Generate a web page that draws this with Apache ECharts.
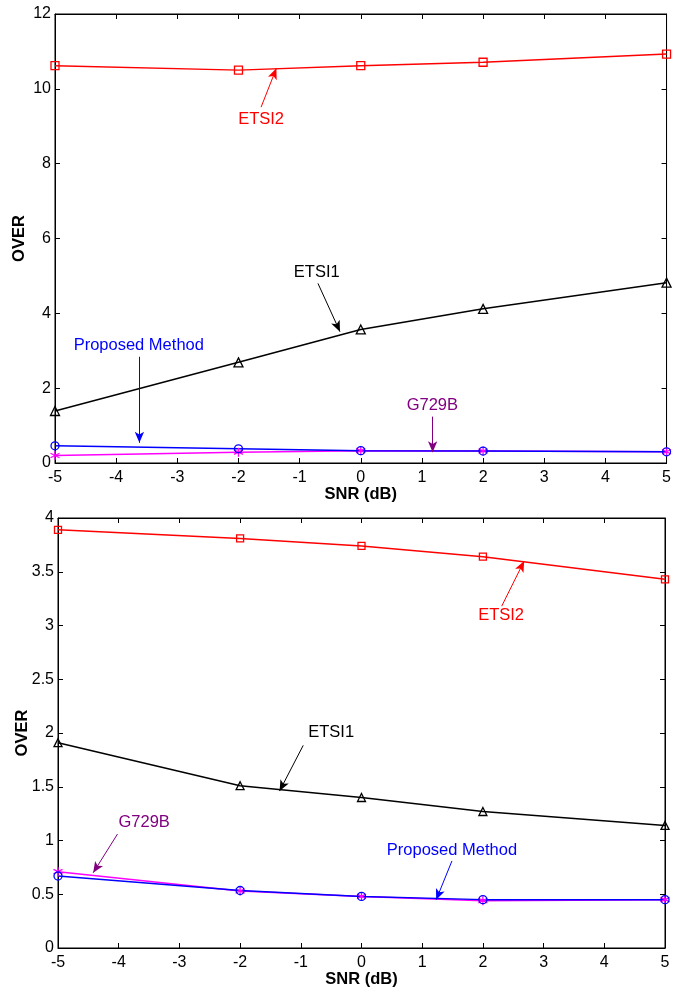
<!DOCTYPE html>
<html>
<head>
<meta charset="utf-8">
<script src="https://cdn.jsdelivr.net/npm/echarts@6/dist/echarts.min.js"></script>
<style>
html,body{margin:0;padding:0;background:#fff;}
#main{width:674px;height:989px;}
</style>
</head>
<body>
<div id="main"></div>
<script>
// ---- data ----
const snr = [-5, -2, 0, 2, 5];
const xTicks = [-5, -4, -3, -2, -1, 0, 1, 2, 3, 4, 5];

// top panel
const topETSI2    = [10.62, 10.50, 10.62, 10.71, 10.93];
const topETSI1    = [1.39, 2.69, 3.57, 4.12, 4.82];
const topProposed = [0.46, 0.38, 0.33, 0.32, 0.30];
const topG729B    = [0.20, 0.29, 0.33, 0.32, 0.30];

// bottom panel
const botETSI2    = [3.89, 3.81, 3.74, 3.64, 3.43];
const botETSI1    = [1.91, 1.51, 1.40, 1.27, 1.14];
const botProposed = [0.67, 0.535, 0.48, 0.45, 0.45];
const botG729B    = [0.71, 0.53, 0.48, 0.44, 0.45];

// annotations: text, text position, arrow start, arrow tip (data coords)
const topNotes = [
  {text: 'ETSI2', key: 'etsi2', at: [-1.63, 9.17], from: [-1.63, 9.51], to: [-1.38, 10.55]},
  {text: 'ETSI1', key: 'etsi1', at: [-0.72, 5.08], from: [-0.70, 4.80], to: [-0.34, 3.51]},
  {text: 'Proposed Method', key: 'prop', at: [-3.63, 3.13], from: [-3.62, 2.84], to: [-3.62, 0.54]},
  {text: 'G729B', key: 'g729', at: [1.17, 1.53], from: [1.175, 1.24], to: [1.175, 0.29]}
];
const botNotes = [
  {text: 'ETSI2', key: 'etsi2', at: [2.30, 3.09], from: [2.31, 3.18], to: [2.68, 3.60]},
  {text: 'ETSI1', key: 'etsi1', at: [-0.50, 2.005], from: [-0.96, 1.885], to: [-1.35, 1.46]},
  {text: 'G729B', key: 'g729', at: [-3.58, 1.165], from: [-4.02, 1.06], to: [-4.42, 0.70]},
  {text: 'Proposed Method', key: 'prop', at: [1.49, 0.91], from: [1.49, 0.81], to: [1.23, 0.448]}
];

// ---- styles ----
const C = {etsi2: '#ff0000', etsi1: '#000000', prop: '#0000ff', g729: '#ff00ff'};
const noteColor = {etsi2: '#ff0000', etsi1: '#000000', prop: '#0000ff', g729: '#800080'};
const FONT = '"Liberation Sans", Arial, sans-serif';
const asterisk = 'path://M5,0 L5,10 M0.7,2.5 L9.3,7.5 M0.7,7.5 L9.3,2.5';

const grids = [
  {left: 55, top: 14, width: 617, height: 449},
  {left: 58, top: 518, width: 607, height: 431}
];
const yCfg = [{min: 0, max: 12, interval: 2}, {min: 0, max: 4, interval: 0.5}];

function fmtY(v) { return String(v); }

const xAxis = [], yAxis = [];
grids.forEach((g, i) => {
  // bottom x with labels
  xAxis.push({
    type: 'value', gridIndex: i, min: -5, max: 5, interval: 1, position: 'bottom',
    name: 'SNR (dB)', nameLocation: 'middle', nameGap: 23, nameMoveOverlap: false,
    nameTextStyle: {fontFamily: FONT, fontSize: 16.5, fontWeight: 'bold', color: '#000'},
    axisLine: {show: true, onZero: false, lineStyle: {color: '#000', width: 1}},
    axisTick: {show: true, inside: true, length: 5, lineStyle: {color: '#000'}},
    axisLabel: {show: true, margin: 7, fontFamily: FONT, fontSize: 16, color: '#000',
      showMinLabel: true, showMaxLabel: true},
    splitLine: {show: false}
  });
  // top x ticks only
  xAxis.push({
    type: 'value', gridIndex: i, min: -5, max: 5, interval: 1, position: 'top',
    axisLine: {show: true, onZero: false, lineStyle: {color: '#000', width: 1}},
    axisTick: {show: true, inside: true, length: 5, lineStyle: {color: '#000'}},
    axisLabel: {show: false}, splitLine: {show: false}
  });
  yAxis.push({
    type: 'value', gridIndex: i, min: yCfg[i].min, max: yCfg[i].max, interval: yCfg[i].interval,
    position: 'left',
    name: 'OVER', nameLocation: 'middle', nameGap: 27, nameRotate: 90, nameMoveOverlap: false,
    nameTextStyle: {fontFamily: FONT, fontSize: 16.5, fontWeight: 'bold', color: '#000'},
    axisLine: {show: true, onZero: false, lineStyle: {color: '#000', width: 1}},
    axisTick: {show: true, inside: true, length: 5, lineStyle: {color: '#000'}},
    axisLabel: {show: true, margin: 4, fontFamily: FONT, fontSize: 16, color: '#000',
      formatter: fmtY, showMinLabel: true, showMaxLabel: true},
    splitLine: {show: false}
  });
  yAxis.push({
    type: 'value', gridIndex: i, min: yCfg[i].min, max: yCfg[i].max, interval: yCfg[i].interval,
    position: 'right',
    axisLine: {show: true, onZero: false, lineStyle: {color: '#000', width: 1}},
    axisTick: {show: true, inside: true, length: 5, lineStyle: {color: '#000'}},
    axisLabel: {show: false}, splitLine: {show: false}
  });
});

function pairs(vals) { return snr.map((x, k) => [x, vals[k]]); }

function lineSeries(gi, vals, key, symbol, size) {
  return {
    type: 'line', xAxisIndex: gi * 2, yAxisIndex: gi * 2,
    data: pairs(vals), symbol: symbol, symbolSize: size, showSymbol: true,
    lineStyle: {color: C[key], width: 1.5},
    itemStyle: {color: 'rgba(255,255,255,0)', borderColor: C[key], borderWidth: 1.3},
    emphasis: {disabled: true}, silent: true, animation: false, clip: false, z: 3
  };
}

function noteSeries(gi, notes) {
  return {
    type: 'line', xAxisIndex: gi * 2, yAxisIndex: gi * 2, data: [],
    silent: true, animation: false, z: 5,
    markLine: {
      silent: true, animation: false, precision: 4,
      symbol: ['none', 'arrow'], symbolSize: [7, 11],
      label: {show: false}, emphasis: {disabled: true},
      data: notes.map(n => [
        {coord: n.from, lineStyle: {color: noteColor[n.key], width: 1, type: 'solid'}, itemStyle: {color: noteColor[n.key]}},
        {coord: n.to}
      ])
    },
    markPoint: {
      silent: true, animation: false,
      symbol: 'circle', symbolSize: 1, itemStyle: {color: 'rgba(0,0,0,0)'},
      data: notes.map(n => ({
        coord: n.at,
        label: {show: true, position: 'inside', formatter: n.text, color: noteColor[n.key],
          fontFamily: FONT, fontSize: 16.5}
      }))
    }
  };
}

const series = [
  lineSeries(0, topETSI2, 'etsi2', 'rect', 8),
  lineSeries(0, topETSI1, 'etsi1', 'triangle', 9),
  lineSeries(0, topG729B, 'g729', asterisk, 9),
  lineSeries(0, topProposed, 'prop', 'circle', 8),
  noteSeries(0, topNotes),
  lineSeries(1, botETSI2, 'etsi2', 'rect', 7),
  lineSeries(1, botETSI1, 'etsi1', 'triangle', 8),
  lineSeries(1, botG729B, 'g729', asterisk, 9),
  lineSeries(1, botProposed, 'prop', 'circle', 8),
  noteSeries(1, botNotes)
];

const chart = echarts.init(document.getElementById('main'), null, {renderer: 'canvas'});
chart.setOption({
  backgroundColor: '#fff',
  animation: false,
  grid: grids.map(g => Object.assign({show: true, borderColor: '#000', borderWidth: 1, backgroundColor: '#fff'}, g)),
  xAxis: xAxis,
  yAxis: yAxis,
  series: series
});
</script>
</body>
</html>
